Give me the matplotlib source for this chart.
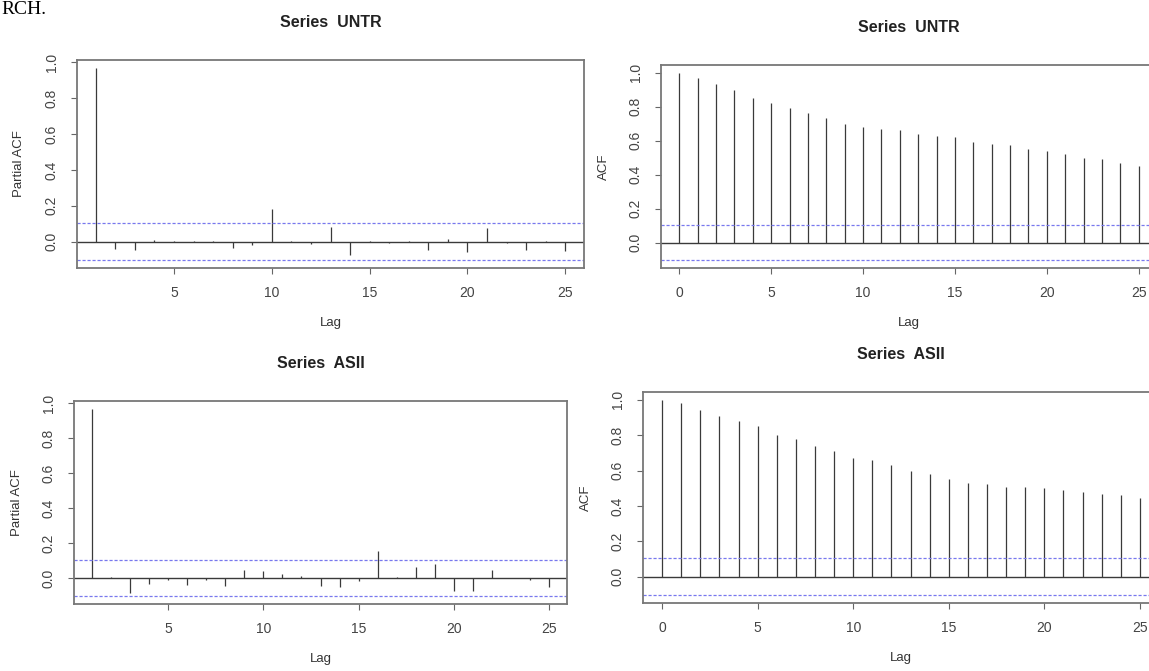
import numpy as np
import matplotlib.pyplot as plt

# autocorrelation values (R acf / pacf output)
pacf_lags = np.arange(1, 26)
acf_lags = np.arange(0, 26)

pacf_untr = [0.97, -0.04, -0.045, 0.01, 0.005, 0.002, 0.003, -0.035, -0.02, 0.18,
             0.003, -0.015, 0.08, -0.075, 0.003, -0.005, 0.005, -0.045, 0.015, -0.055,
             0.075, -0.008, -0.045, 0.002, -0.05]
acf_untr = [1.0, 0.97, 0.93, 0.90, 0.85, 0.82, 0.79, 0.76, 0.73, 0.70, 0.68, 0.67, 0.66,
            0.64, 0.63, 0.62, 0.59, 0.58, 0.575, 0.55, 0.54, 0.52, 0.50, 0.49, 0.47, 0.45]
pacf_asii = [0.97, 0.005, -0.085, -0.03, -0.01, -0.04, -0.01, -0.045, 0.046, 0.04,
             0.025, 0.015, -0.045, -0.05, -0.015, 0.155, 0.01, 0.065, 0.08, -0.075,
             -0.075, 0.05, 0.002, -0.01, -0.05]
acf_asii = [1.0, 0.98, 0.94, 0.91, 0.88, 0.85, 0.80, 0.78, 0.74, 0.71, 0.67, 0.66, 0.63,
            0.60, 0.58, 0.55, 0.53, 0.525, 0.51, 0.51, 0.50, 0.49, 0.48, 0.47, 0.46, 0.445]
ci = 0.104  # 1.96/sqrt(n)

W, H = 1149, 671
fig = plt.figure(figsize=(W / 100, H / 100), dpi=100)
plt.rcParams['font.family'] = ['Liberation Sans', 'DejaVu Sans']


def px_rect(l, t, r, b):
    return [l / W, 1 - b / H, (r - l) / W, (b - t) / H]


def r_lim(lo, hi):
    # R style axis range: data range extended by 4% on each side
    d = (hi - lo) * 0.04
    return lo - d, hi + d


def corr_panel(rect, lags, vals, title, ylabel):
    ax = fig.add_axes(px_rect(*rect))
    vals = np.array(vals)
    ax.vlines(lags, 0, vals, color='#3a3a3a', lw=0.9)
    ax.axhline(0, color='#3a3a3a', lw=1.0)
    for c in (ci, -ci):
        ax.axhline(c, color='#7878ee', lw=0.9, ls=(0, (2.5, 1.5)))
    ax.set_xlim(*r_lim(lags.min(), lags.max()))
    ax.set_ylim(*r_lim(min(-ci, vals.min()), max(ci, vals.max())))
    xt = np.arange(0, 26, 5)
    ax.set_xticks(xt[xt >= lags.min()])
    yt = np.arange(0, 1.01, 0.2)
    ax.set_yticks(yt)
    ax.set_yticklabels(['%.1f' % v for v in yt], rotation=90, va='center')
    ax.tick_params(direction='out', length=4, width=0.8, color='#666666',
                   labelsize=10, labelcolor='#444444', pad=9)
    for s in ax.spines.values():
        s.set_color('#777777')
        s.set_linewidth(1.3)
    ax.set_title(title, fontsize=11.5, fontweight='bold', color='#222222', pad=24)
    ax.set_xlabel('Lag', fontsize=9.5, color='#333333', labelpad=12)
    ax.set_ylabel(ylabel, fontsize=9.5, color='#333333', labelpad=14)
    return ax


corr_panel((77, 60, 584, 268), pacf_lags, pacf_untr, 'Series  UNTR', 'Partial ACF')
corr_panel((661, 65, 1157, 268), acf_lags, acf_untr, 'Series  UNTR', 'ACF')
corr_panel((74, 401, 567, 604), pacf_lags, pacf_asii, 'Series  ASII', 'Partial ACF')
corr_panel((643, 392, 1159, 603), acf_lags, acf_asii, 'Series  ASII', 'ACF')

# leftover text from the page the plots were cut out of
fig.text(1 / W, 1 - 14 / H, 'RCH.', ha='left', va='baseline', fontsize=14,
         family=['Liberation Serif', 'DejaVu Serif'], color='black')

fig.savefig('out.png', dpi=100)
